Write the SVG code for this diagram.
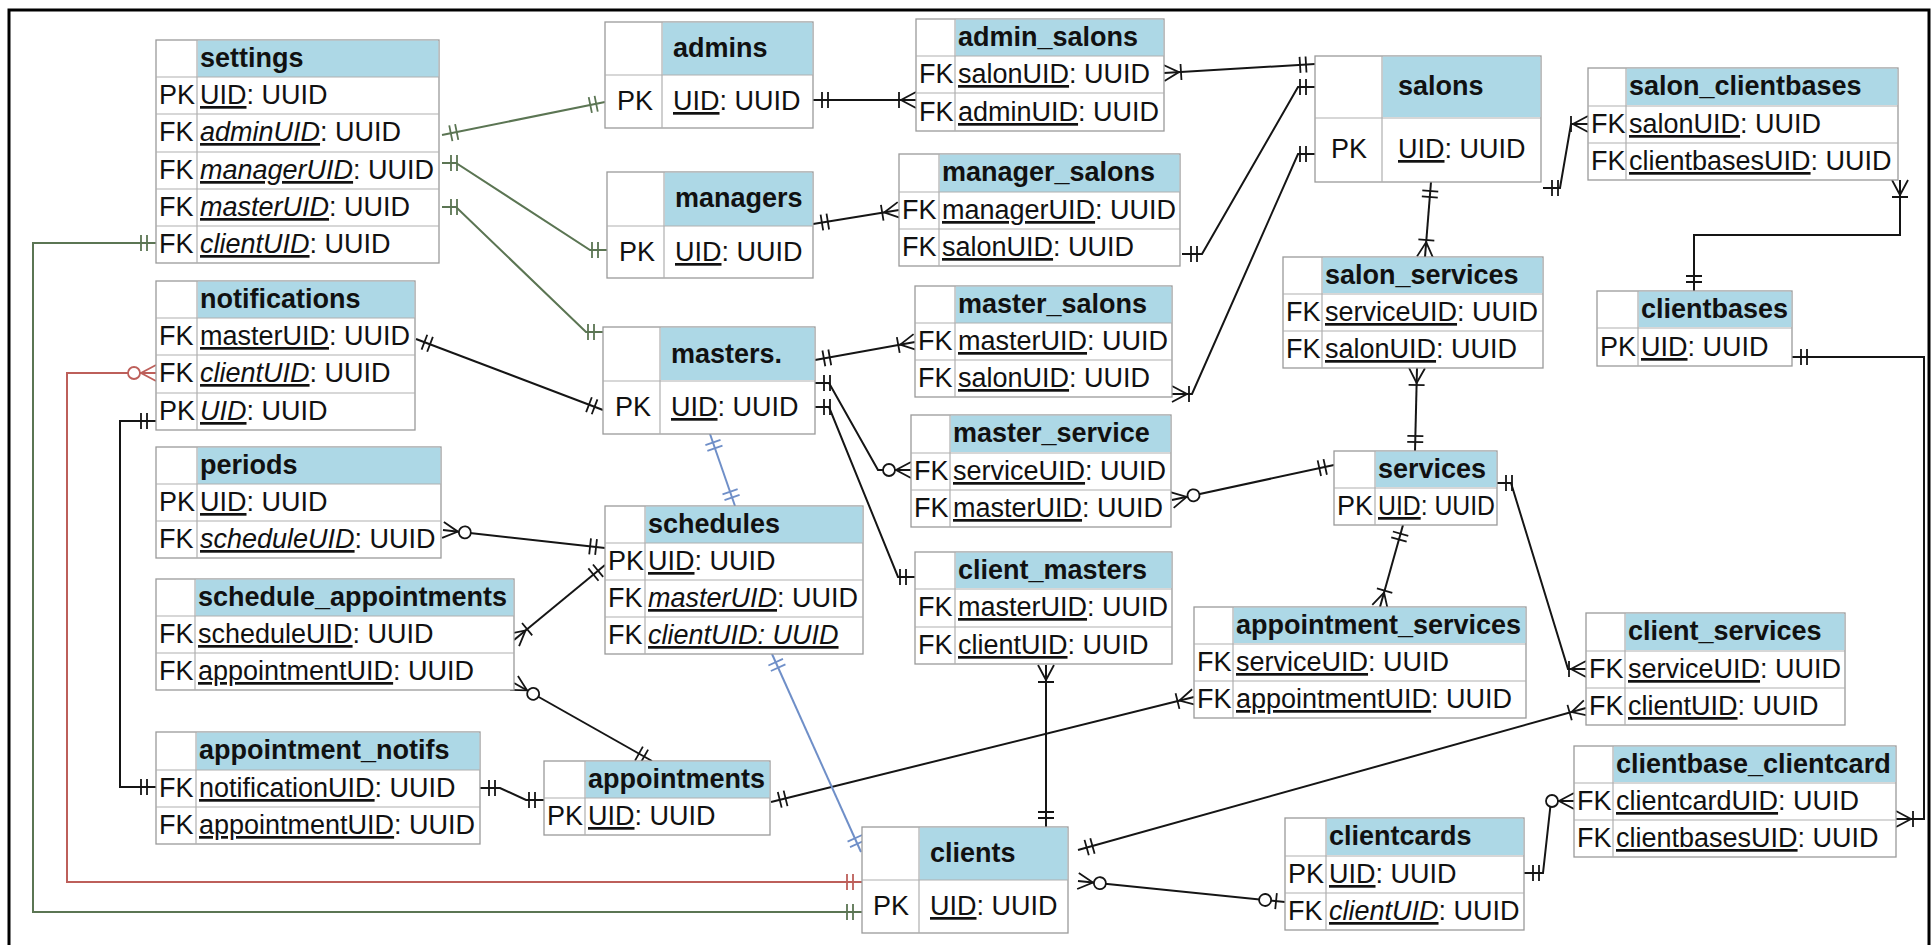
<svg xmlns="http://www.w3.org/2000/svg" width="1932" height="945" viewBox="0 0 1932 945">
<style>
.t{font-family:"Liberation Sans",Arial,Helvetica,sans-serif;font-size:27px;fill:#111}
.b{font-weight:bold}
.u{text-decoration:underline}
.i{font-style:italic}
.bx{fill:#fff;stroke:#9a9a9a;stroke-width:1.3}
.hd{fill:#add8e6}
.sep{fill:none;stroke:#b0b0b0;stroke-width:1.2}
.c{fill:none;stroke-width:2}
.k{stroke:#151515}
.g{stroke:#5b7553}
.r{stroke:#bd5f5a}
.bl{stroke:#6f8fc8}
</style>
<defs>
<marker id="one-k" markerUnits="userSpaceOnUse" orient="auto-start-reverse" viewBox="-40 -15 44 30" markerWidth="44" markerHeight="30" refX="0" refY="0" overflow="visible"><path d="M-9,-8V8M-15,-8V8" stroke="#151515" stroke-width="1.8" fill="none"/></marker>
<marker id="one-g" markerUnits="userSpaceOnUse" orient="auto-start-reverse" viewBox="-40 -15 44 30" markerWidth="44" markerHeight="30" refX="0" refY="0" overflow="visible"><path d="M-9,-8V8M-15,-8V8" stroke="#5b7553" stroke-width="1.8" fill="none"/></marker>
<marker id="one-r" markerUnits="userSpaceOnUse" orient="auto-start-reverse" viewBox="-40 -15 44 30" markerWidth="44" markerHeight="30" refX="0" refY="0" overflow="visible"><path d="M-9,-8V8M-15,-8V8" stroke="#bd5f5a" stroke-width="1.8" fill="none"/></marker>
<marker id="one-b" markerUnits="userSpaceOnUse" orient="auto-start-reverse" viewBox="-40 -15 44 30" markerWidth="44" markerHeight="30" refX="0" refY="0" overflow="visible"><path d="M-9,-8V8M-15,-8V8" stroke="#6f8fc8" stroke-width="1.8" fill="none"/></marker>
<marker id="many1-k" markerUnits="userSpaceOnUse" orient="auto-start-reverse" viewBox="-40 -15 44 30" markerWidth="44" markerHeight="30" refX="0" refY="0" overflow="visible"><path d="M0,-8L-15,0L0,8M-17,-8V8" stroke="#151515" stroke-width="1.8" fill="none"/></marker>
<marker id="many0-k" markerUnits="userSpaceOnUse" orient="auto-start-reverse" viewBox="-40 -15 44 30" markerWidth="44" markerHeight="30" refX="0" refY="0" overflow="visible"><path d="M0,-8L-15,0L0,8" stroke="#151515" stroke-width="1.8" fill="none"/><circle cx="-22" cy="0" r="6" fill="#fff" stroke="#151515" stroke-width="1.8"/></marker>
<marker id="many0-r" markerUnits="userSpaceOnUse" orient="auto-start-reverse" viewBox="-40 -15 44 30" markerWidth="44" markerHeight="30" refX="0" refY="0" overflow="visible"><path d="M0,-8L-15,0L0,8" stroke="#bd5f5a" stroke-width="1.8" fill="none"/><circle cx="-22" cy="0" r="6" fill="#fff" stroke="#bd5f5a" stroke-width="1.8"/></marker>
<marker id="one0-k" markerUnits="userSpaceOnUse" orient="auto-start-reverse" viewBox="-40 -15 44 30" markerWidth="44" markerHeight="30" refX="0" refY="0" overflow="visible"><path d="M-9,-8V8" stroke="#151515" stroke-width="1.8" fill="none"/><circle cx="-20" cy="0" r="6" fill="#fff" stroke="#151515" stroke-width="1.8"/></marker>
</defs>
<rect x="0" y="0" width="1932" height="945" fill="#fff"/>
<rect x="9" y="10" width="1920" height="950" fill="none" stroke="#000" stroke-width="3"/>

<g id="connectors">
<path class="c g" d="M442,135L605,102" marker-start="url(#one-g)" marker-end="url(#one-g)"/>
<path class="c g" d="M442,163H456L590,250H607" marker-start="url(#one-g)" marker-end="url(#one-g)"/>
<path class="c g" d="M442,207H456L586,332H603" marker-start="url(#one-g)" marker-end="url(#one-g)"/>
<path class="c g" d="M156,243H33V912H862" marker-start="url(#one-g)" marker-end="url(#one-g)"/>
<path class="c r" d="M156,373H67V882H862" marker-start="url(#many0-r)" marker-end="url(#one-r)"/>
<path class="c k" d="M156,421H120V787H156" marker-start="url(#one-k)" marker-end="url(#one-k)"/>
<path class="c k" d="M416,339L603,410" marker-start="url(#one-k)" marker-end="url(#one-k)"/>
<path class="c k" d="M813,100H916" marker-start="url(#one-k)" marker-end="url(#many1-k)"/>
<path class="c k" d="M1164,73L1315,64" marker-start="url(#many1-k)" marker-end="url(#one-k)"/>
<path class="c k" d="M813,224L899,210" marker-start="url(#one-k)" marker-end="url(#many1-k)"/>
<path class="c k" d="M1182,254H1202L1298,87H1315" marker-start="url(#one-k)" marker-end="url(#one-k)"/>
<path class="c k" d="M815,360L915,342" marker-start="url(#one-k)" marker-end="url(#many1-k)"/>
<path class="c k" d="M1172,394H1192L1298,154H1315" marker-start="url(#many1-k)" marker-end="url(#one-k)"/>
<path class="c k" d="M815,383H829L878,470H911" marker-start="url(#one-k)" marker-end="url(#many0-k)"/>
<path class="c k" d="M815,407H829L898,577H915" marker-start="url(#one-k)" marker-end="url(#one-k)"/>
<path class="c k" d="M1172,500L1334,465" marker-start="url(#many0-k)" marker-end="url(#one-k)"/>
<path class="c k" d="M1431,182L1425,257" marker-start="url(#one-k)" marker-end="url(#many1-k)"/>
<path class="c k" d="M1417,368L1415,451" marker-start="url(#many1-k)" marker-end="url(#one-k)"/>
<path class="c k" d="M1543,188H1560L1571,124H1588" marker-start="url(#one-k)" marker-end="url(#many1-k)"/>
<path class="c k" d="M1900,180V235H1694V291" marker-start="url(#many1-k)" marker-end="url(#one-k)"/>
<path class="c k" d="M1792,357H1924V819H1896" marker-start="url(#one-k)" marker-end="url(#many1-k)"/>
<path class="c k" d="M1524,873H1543L1551,801H1574" marker-start="url(#one-k)" marker-end="url(#many0-k)"/>
<path class="c k" d="M1078,881L1285,902" marker-start="url(#many0-k)" marker-end="url(#one0-k)"/>
<path class="c k" d="M1078,850L1586,708" marker-start="url(#one-k)" marker-end="url(#many1-k)"/>
<path class="c k" d="M1046,665V827" marker-start="url(#many1-k)" marker-end="url(#one-k)"/>
<path class="c k" d="M771,802L1194,697" marker-start="url(#one-k)" marker-end="url(#many1-k)"/>
<path class="c k" d="M514,683L652,761" marker-start="url(#many0-k)" marker-end="url(#one-k)"/>
<path class="c k" d="M514,640L605,565" marker-start="url(#many1-k)" marker-end="url(#one-k)"/>
<path class="c k" d="M443,530L605,548" marker-start="url(#many0-k)" marker-end="url(#one-k)"/>
<path class="c k" d="M480,788H500L526,800H544" marker-start="url(#one-k)" marker-end="url(#one-k)"/>
<path class="c bl" d="M710,434L735,506" marker-start="url(#one-b)" marker-end="url(#one-b)"/>
<path class="c bl" d="M772,654L861,852" marker-start="url(#one-b)" marker-end="url(#one-b)"/>
<path class="c k" d="M1497,483H1511L1568,669H1586" marker-start="url(#one-k)" marker-end="url(#many1-k)"/>
<path class="c k" d="M1403,525L1380,607" marker-start="url(#one-k)" marker-end="url(#many1-k)"/>
</g>

<g id="settings">
<rect class="bx" x="156" y="40" width="283" height="223"/>
<rect class="hd" x="197.7" y="40.7" width="240.6" height="36.3"/>
<path class="sep" d="M197,40V263M156,77H439M156,114H439M156,152H439M156,189H439M156,226H439"/>
<text class="t b" x="200" y="67">settings</text>
<text class="t" x="159" y="104">PK</text><text class="t" x="200" y="104"><tspan class="u">UID</tspan>: UUID</text>
<text class="t" x="159" y="141">FK</text><text class="t" x="200" y="141"><tspan class="u i">adminUID</tspan>: UUID</text>
<text class="t" x="159" y="179">FK</text><text class="t" x="200" y="179"><tspan class="u i">managerUID</tspan>: UUID</text>
<text class="t" x="159" y="216">FK</text><text class="t" x="200" y="216"><tspan class="u i">masterUID</tspan>: UUID</text>
<text class="t" x="159" y="253">FK</text><text class="t" x="200" y="253"><tspan class="u i">clientUID</tspan>: UUID</text>
</g>

<g id="notifications">
<rect class="bx" x="156" y="281" width="259" height="149"/>
<rect class="hd" x="197.7" y="281.7" width="216.6" height="36.3"/>
<path class="sep" d="M197,281V430M156,318H415M156,355H415M156,393H415"/>
<text class="t b" x="200" y="308">notifications</text>
<text class="t" x="159" y="345">FK</text><text class="t" x="200" y="345"><tspan class="u">masterUID</tspan>: UUID</text>
<text class="t" x="159" y="382">FK</text><text class="t" x="200" y="382"><tspan class="u i">clientUID</tspan>: UUID</text>
<text class="t" x="159" y="420">PK</text><text class="t" x="200" y="420"><tspan class="u i">UID</tspan>: UUID</text>
</g>

<g id="periods">
<rect class="bx" x="156" y="447" width="285" height="111"/>
<rect class="hd" x="197.7" y="447.7" width="242.6" height="36.3"/>
<path class="sep" d="M197,447V558M156,484H441M156,521H441"/>
<text class="t b" x="200" y="474">periods</text>
<text class="t" x="159" y="511">PK</text><text class="t" x="200" y="511"><tspan class="u">UID</tspan>: UUID</text>
<text class="t" x="159" y="548">FK</text><text class="t" x="200" y="548"><tspan class="u i">scheduleUID</tspan>: UUID</text>
</g>

<g id="schedule_appointments">
<rect class="bx" x="156" y="579" width="358" height="111"/>
<rect class="hd" x="195.7" y="579.7" width="317.6" height="36.3"/>
<path class="sep" d="M195,579V690M156,616H514M156,653H514"/>
<text class="t b" x="198" y="606">schedule_appointments</text>
<text class="t" x="159" y="643">FK</text><text class="t" x="198" y="643"><tspan class="u">scheduleUID</tspan>: UUID</text>
<text class="t" x="159" y="680">FK</text><text class="t" x="198" y="680"><tspan class="u">appointmentUID</tspan>: UUID</text>
</g>

<g id="appointment_notifs">
<rect class="bx" x="156" y="732" width="324" height="112"/>
<rect class="hd" x="196.7" y="732.7" width="282.6" height="37.3"/>
<path class="sep" d="M196,732V844M156,770H480M156,807H480"/>
<text class="t b" x="199" y="759">appointment_notifs</text>
<text class="t" x="159" y="797">FK</text><text class="t" x="199" y="797"><tspan class="u">notificationUID</tspan>: UUID</text>
<text class="t" x="159" y="834">FK</text><text class="t" x="199" y="834"><tspan class="u">appointmentUID</tspan>: UUID</text>
</g>

<g id="appointments">
<rect class="bx" x="544" y="761" width="226" height="74"/>
<rect class="hd" x="585.7" y="761.7" width="183.6" height="36.3"/>
<path class="sep" d="M585,761V835M544,798H770"/>
<text class="t b" x="588" y="788">appointments</text>
<text class="t" x="547" y="825">PK</text><text class="t" x="588" y="825"><tspan class="u">UID</tspan>: UUID</text>
</g>

<g id="schedules">
<rect class="bx" x="605" y="506" width="258" height="148"/>
<rect class="hd" x="645.7" y="506.7" width="216.6" height="36.3"/>
<path class="sep" d="M645,506V654M605,543H863M605,580H863M605,617H863"/>
<text class="t b" x="648" y="533">schedules</text>
<text class="t" x="608" y="570">PK</text><text class="t" x="648" y="570"><tspan class="u">UID</tspan>: UUID</text>
<text class="t" x="608" y="607">FK</text><text class="t" x="648" y="607"><tspan class="u i">masterUID</tspan>: UUID</text>
<text class="t" x="608" y="644">FK</text><text class="t" x="648" y="644"><tspan class="u i">clientUID: UUID</tspan></text>
</g>

<g id="admins">
<rect class="bx" x="605" y="22" width="208" height="106"/>
<rect class="hd" x="662.7" y="22.7" width="149.6" height="52.3"/>
<path class="sep" d="M662,22V128M605,75H813"/>
<text class="t b" x="673" y="57">admins</text>
<text class="t" x="617" y="110">PK</text><text class="t" x="673" y="110"><tspan class="u">UID</tspan>: UUID</text>
</g>

<g id="managers">
<rect class="bx" x="607" y="172" width="206" height="106"/>
<rect class="hd" x="664.7" y="172.7" width="147.6" height="53.3"/>
<path class="sep" d="M664,172V278M607,226H813"/>
<text class="t b" x="675" y="207">managers</text>
<text class="t" x="619" y="261">PK</text><text class="t" x="675" y="261"><tspan class="u">UID</tspan>: UUID</text>
</g>

<g id="admin_salons">
<rect class="bx" x="916" y="19" width="248" height="112"/>
<rect class="hd" x="955.7" y="19.7" width="207.6" height="36.3"/>
<path class="sep" d="M955,19V131M916,56H1164M916,93H1164"/>
<text class="t b" x="958" y="46">admin_salons</text>
<text class="t" x="919" y="83">FK</text><text class="t" x="958" y="83"><tspan class="u">salonUID</tspan>: UUID</text>
<text class="t" x="919" y="121">FK</text><text class="t" x="958" y="121"><tspan class="u">adminUID</tspan>: UUID</text>
</g>

<g id="manager_salons">
<rect class="bx" x="899" y="154" width="281" height="112"/>
<rect class="hd" x="939.7" y="154.7" width="239.6" height="37.3"/>
<path class="sep" d="M939,154V266M899,192H1180M899,229H1180"/>
<text class="t b" x="942" y="181">manager_salons</text>
<text class="t" x="902" y="219">FK</text><text class="t" x="942" y="219"><tspan class="u">managerUID</tspan>: UUID</text>
<text class="t" x="902" y="256">FK</text><text class="t" x="942" y="256"><tspan class="u">salonUID</tspan>: UUID</text>
</g>

<g id="master_salons">
<rect class="bx" x="915" y="286" width="257" height="111"/>
<rect class="hd" x="955.7" y="286.7" width="215.6" height="36.3"/>
<path class="sep" d="M955,286V397M915,323H1172M915,360H1172"/>
<text class="t b" x="958" y="313">master_salons</text>
<text class="t" x="918" y="350">FK</text><text class="t" x="958" y="350"><tspan class="u">masterUID</tspan>: UUID</text>
<text class="t" x="918" y="387">FK</text><text class="t" x="958" y="387"><tspan class="u">salonUID</tspan>: UUID</text>
</g>

<g id="masters">
<rect class="bx" x="603" y="327" width="212" height="107"/>
<rect class="hd" x="660.7" y="327.7" width="153.6" height="52.3"/>
<path class="sep" d="M660,327V434M603,381H815"/>
<text class="t b" x="671" y="363">masters.</text>
<text class="t" x="615" y="416">PK</text><text class="t" x="671" y="416"><tspan class="u">UID</tspan>: UUID</text>
</g>

<g id="master_service">
<rect class="bx" x="911" y="415" width="260" height="112"/>
<rect class="hd" x="950.7" y="415.7" width="219.6" height="36.3"/>
<path class="sep" d="M950,415V527M911,453H1171M911,490H1171"/>
<text class="t b" x="953" y="442">master_service</text>
<text class="t" x="914" y="480">FK</text><text class="t" x="953" y="480"><tspan class="u">serviceUID</tspan>: UUID</text>
<text class="t" x="914" y="517">FK</text><text class="t" x="953" y="517"><tspan class="u">masterUID</tspan>: UUID</text>
</g>

<g id="client_masters">
<rect class="bx" x="915" y="552" width="257" height="112"/>
<rect class="hd" x="955.7" y="552.7" width="215.6" height="35.3"/>
<path class="sep" d="M955,552V664M915,589H1172M915,627H1172"/>
<text class="t b" x="958" y="579">client_masters</text>
<text class="t" x="918" y="616">FK</text><text class="t" x="958" y="616"><tspan class="u">masterUID</tspan>: UUID</text>
<text class="t" x="918" y="654">FK</text><text class="t" x="958" y="654"><tspan class="u">clientUID</tspan>: UUID</text>
</g>

<g id="appointment_services">
<rect class="bx" x="1194" y="607" width="332" height="111"/>
<rect class="hd" x="1233.7" y="607.7" width="291.6" height="35.3"/>
<path class="sep" d="M1233,607V718M1194,644H1526M1194,681H1526"/>
<text class="t b" x="1236" y="634">appointment_services</text>
<text class="t" x="1197" y="671">FK</text><text class="t" x="1236" y="671"><tspan class="u">serviceUID</tspan>: UUID</text>
<text class="t" x="1197" y="708">FK</text><text class="t" x="1236" y="708"><tspan class="u">appointmentUID</tspan>: UUID</text>
</g>

<g id="services">
<rect class="bx" x="1334" y="451" width="163" height="74"/>
<rect class="hd" x="1375.7" y="451.7" width="120.6" height="35.3"/>
<path class="sep" d="M1375,451V525M1334,488H1497"/>
<text class="t b" x="1378" y="478">services</text>
<text class="t" x="1337" y="515">PK</text><text class="t" x="1378" y="515" textLength="117" lengthAdjust="spacingAndGlyphs"><tspan class="u">UID</tspan>: UUID</text>
</g>

<g id="salons">
<rect class="bx" x="1315" y="56" width="226" height="126"/>
<rect class="hd" x="1382.7" y="56.7" width="157.6" height="60.3"/>
<path class="sep" d="M1382,56V182M1315,118H1541"/>
<text class="t b" x="1398" y="95">salons</text>
<text class="t" x="1331" y="158">PK</text><text class="t" x="1398" y="158"><tspan class="u">UID</tspan>: UUID</text>
</g>

<g id="salon_clientbases">
<rect class="bx" x="1588" y="68" width="310" height="112"/>
<rect class="hd" x="1626.7" y="68.7" width="270.6" height="36.3"/>
<path class="sep" d="M1626,68V180M1588,106H1898M1588,143H1898"/>
<text class="t b" x="1629" y="95">salon_clientbases</text>
<text class="t" x="1591" y="133">FK</text><text class="t" x="1629" y="133"><tspan class="u">salonUID</tspan>: UUID</text>
<text class="t" x="1591" y="170">FK</text><text class="t" x="1629" y="170"><tspan class="u">clientbasesUID</tspan>: UUID</text>
</g>

<g id="salon_services">
<rect class="bx" x="1283" y="257" width="260" height="111"/>
<rect class="hd" x="1322.7" y="257.7" width="219.6" height="35.3"/>
<path class="sep" d="M1322,257V368M1283,294H1543M1283,331H1543"/>
<text class="t b" x="1325" y="284">salon_services</text>
<text class="t" x="1286" y="321">FK</text><text class="t" x="1325" y="321"><tspan class="u">serviceUID</tspan>: UUID</text>
<text class="t" x="1286" y="358">FK</text><text class="t" x="1325" y="358"><tspan class="u">salonUID</tspan>: UUID</text>
</g>

<g id="clientbases">
<rect class="bx" x="1597" y="291" width="195" height="75"/>
<rect class="hd" x="1638.7" y="291.7" width="152.6" height="35.3"/>
<path class="sep" d="M1638,291V366M1597,328H1792"/>
<text class="t b" x="1641" y="318">clientbases</text>
<text class="t" x="1600" y="356">PK</text><text class="t" x="1641" y="356"><tspan class="u">UID</tspan>: UUID</text>
</g>

<g id="client_services">
<rect class="bx" x="1586" y="613" width="259" height="112"/>
<rect class="hd" x="1625.7" y="613.7" width="218.6" height="36.3"/>
<path class="sep" d="M1625,613V725M1586,651H1845M1586,688H1845"/>
<text class="t b" x="1628" y="640">client_services</text>
<text class="t" x="1589" y="678">FK</text><text class="t" x="1628" y="678"><tspan class="u">serviceUID</tspan>: UUID</text>
<text class="t" x="1589" y="715">FK</text><text class="t" x="1628" y="715"><tspan class="u">clientUID</tspan>: UUID</text>
</g>

<g id="clientbase_clientcard">
<rect class="bx" x="1574" y="746" width="322" height="111"/>
<rect class="hd" x="1613.7" y="746.7" width="281.6" height="35.3"/>
<path class="sep" d="M1613,746V857M1574,783H1896M1574,820H1896"/>
<text class="t b" x="1616" y="773">clientbase_clientcard</text>
<text class="t" x="1577" y="810">FK</text><text class="t" x="1616" y="810"><tspan class="u">clientcardUID</tspan>: UUID</text>
<text class="t" x="1577" y="847">FK</text><text class="t" x="1616" y="847"><tspan class="u">clientbasesUID</tspan>: UUID</text>
</g>

<g id="clientcards">
<rect class="bx" x="1285" y="818" width="239" height="112"/>
<rect class="hd" x="1326.7" y="818.7" width="196.6" height="36.3"/>
<path class="sep" d="M1326,818V930M1285,856H1524M1285,893H1524"/>
<text class="t b" x="1329" y="845">clientcards</text>
<text class="t" x="1288" y="883">PK</text><text class="t" x="1329" y="883"><tspan class="u">UID</tspan>: UUID</text>
<text class="t" x="1288" y="920">FK</text><text class="t" x="1329" y="920"><tspan class="u i">clientUID</tspan>: UUID</text>
</g>

<g id="clients">
<rect class="bx" x="862" y="827" width="206" height="106"/>
<rect class="hd" x="919.7" y="827.7" width="147.6" height="52.3"/>
<path class="sep" d="M919,827V933M862,880H1068"/>
<text class="t b" x="930" y="862">clients</text>
<text class="t" x="873" y="915">PK</text><text class="t" x="930" y="915"><tspan class="u">UID</tspan>: UUID</text>
</g>
</svg>
